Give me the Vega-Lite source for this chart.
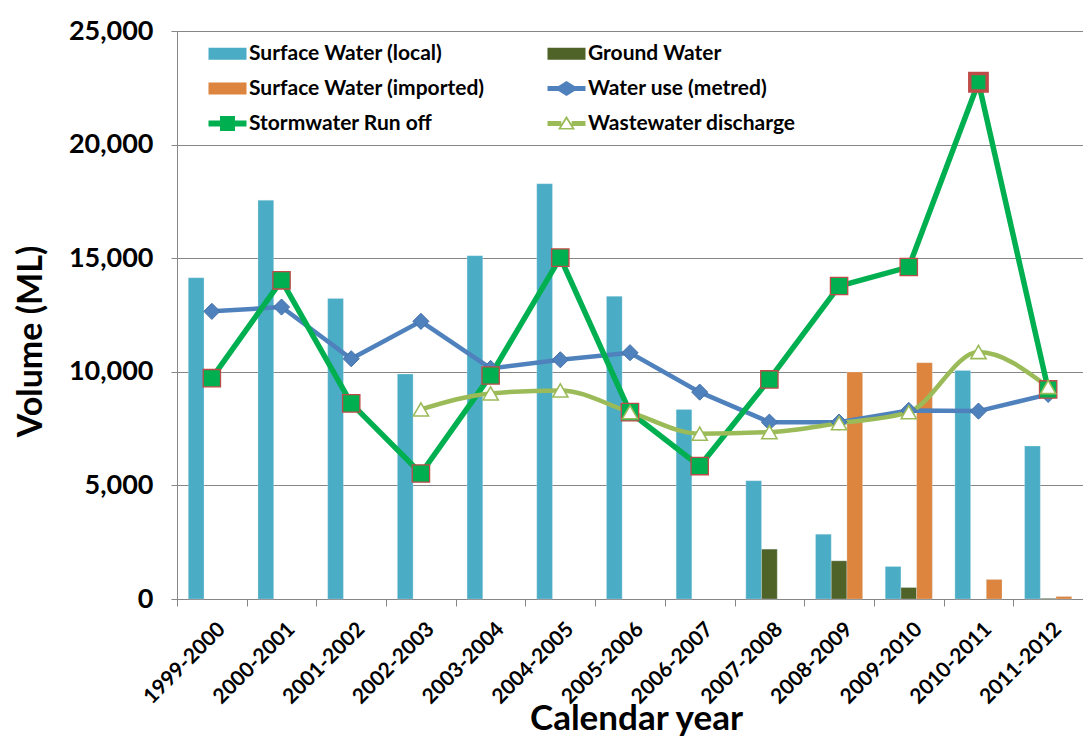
{
  "$schema": "https://vega.github.io/schema/vega-lite/v6.json",
  "width": 906,
  "height": 568,
  "autosize": {"type": "none"},
  "padding": {"left": 177, "top": 31, "right": 0, "bottom": 139},
  "background": "white",
  "config": {
    "view": {"stroke": null},
    "font": "Lato",
    "axis": {"labelFont": "Lato", "titleFont": "Lato", "labelColor": "black", "titleColor": "black", "domainColor": "#868686", "tickColor": "#868686", "gridColor": "#868686", "gridOpacity": 1, "domainWidth": 1, "tickWidth": 1}
  },
  "data": {
    "values": [
      {"year": "1999-2000", "series": "Surface Water (local)", "value": 14140},
      {"year": "2000-2001", "series": "Surface Water (local)", "value": 17550},
      {"year": "2001-2002", "series": "Surface Water (local)", "value": 13230},
      {"year": "2002-2003", "series": "Surface Water (local)", "value": 9900},
      {"year": "2003-2004", "series": "Surface Water (local)", "value": 15110},
      {"year": "2004-2005", "series": "Surface Water (local)", "value": 18280},
      {"year": "2005-2006", "series": "Surface Water (local)", "value": 13320},
      {"year": "2006-2007", "series": "Surface Water (local)", "value": 8340},
      {"year": "2007-2008", "series": "Surface Water (local)", "value": 5205},
      {"year": "2008-2009", "series": "Surface Water (local)", "value": 2855},
      {"year": "2009-2010", "series": "Surface Water (local)", "value": 1430},
      {"year": "2010-2011", "series": "Surface Water (local)", "value": 10060},
      {"year": "2011-2012", "series": "Surface Water (local)", "value": 6730},
      {"year": "2007-2008", "series": "Ground Water", "value": 2195},
      {"year": "2008-2009", "series": "Ground Water", "value": 1680},
      {"year": "2009-2010", "series": "Ground Water", "value": 505},
      {"year": "2011-2012", "series": "Ground Water", "value": 30},
      {"year": "2008-2009", "series": "Surface Water (imported)", "value": 9990},
      {"year": "2009-2010", "series": "Surface Water (imported)", "value": 10400},
      {"year": "2010-2011", "series": "Surface Water (imported)", "value": 860},
      {"year": "2011-2012", "series": "Surface Water (imported)", "value": 110},
      {"year": "1999-2000", "series": "Water use (metred)", "value": 12660},
      {"year": "2000-2001", "series": "Water use (metred)", "value": 12850},
      {"year": "2001-2002", "series": "Water use (metred)", "value": 10575},
      {"year": "2002-2003", "series": "Water use (metred)", "value": 12220},
      {"year": "2003-2004", "series": "Water use (metred)", "value": 10150},
      {"year": "2004-2005", "series": "Water use (metred)", "value": 10530},
      {"year": "2005-2006", "series": "Water use (metred)", "value": 10840},
      {"year": "2006-2007", "series": "Water use (metred)", "value": 9106},
      {"year": "2007-2008", "series": "Water use (metred)", "value": 7785},
      {"year": "2008-2009", "series": "Water use (metred)", "value": 7785},
      {"year": "2009-2010", "series": "Water use (metred)", "value": 8300},
      {"year": "2010-2011", "series": "Water use (metred)", "value": 8270},
      {"year": "2011-2012", "series": "Water use (metred)", "value": 9005},
      {"year": "1999-2000", "series": "Stormwater Run off", "value": 9720},
      {"year": "2000-2001", "series": "Stormwater Run off", "value": 14025},
      {"year": "2001-2002", "series": "Stormwater Run off", "value": 8610},
      {"year": "2002-2003", "series": "Stormwater Run off", "value": 5525},
      {"year": "2003-2004", "series": "Stormwater Run off", "value": 9840},
      {"year": "2004-2005", "series": "Stormwater Run off", "value": 15025},
      {"year": "2005-2006", "series": "Stormwater Run off", "value": 8225},
      {"year": "2006-2007", "series": "Stormwater Run off", "value": 5850},
      {"year": "2007-2008", "series": "Stormwater Run off", "value": 9665},
      {"year": "2008-2009", "series": "Stormwater Run off", "value": 13775},
      {"year": "2009-2010", "series": "Stormwater Run off", "value": 14610},
      {"year": "2010-2011", "series": "Stormwater Run off", "value": 22745},
      {"year": "2011-2012", "series": "Stormwater Run off", "value": 9225},
      {"year": "2002-2003", "series": "Wastewater discharge", "value": 8345},
      {"year": "2003-2004", "series": "Wastewater discharge", "value": 9050},
      {"year": "2004-2005", "series": "Wastewater discharge", "value": 9180},
      {"year": "2005-2006", "series": "Wastewater discharge", "value": 8225},
      {"year": "2006-2007", "series": "Wastewater discharge", "value": 7275},
      {"year": "2007-2008", "series": "Wastewater discharge", "value": 7345},
      {"year": "2008-2009", "series": "Wastewater discharge", "value": 7740},
      {"year": "2009-2010", "series": "Wastewater discharge", "value": 8225},
      {"year": "2010-2011", "series": "Wastewater discharge", "value": 10870},
      {"year": "2011-2012", "series": "Wastewater discharge", "value": 9330}
    ]
  },
  "encoding": {
    "x": {
      "field": "year", "type": "nominal",
      "sort": ["1999-2000","2000-2001","2001-2002","2002-2003","2003-2004","2004-2005","2005-2006","2006-2007","2007-2008","2008-2009","2009-2010","2010-2011","2011-2012"],
      "scale": {"paddingInner": 0, "paddingOuter": 0},
      "axis": {
        "title": "Calendar year", "titleFontSize": 35, "titleFontWeight": "bold",
        "titleX": 459, "titleY": 130, "titleAlign": "center", "titleBaseline": "alphabetic",
        "labelAngle": -45, "labelAlign": "right", "labelBaseline": "top",
        "labelFontSize": 21, "labelFontWeight": "bold", "labelPadding": 12, "labelOffset": 2,
        "tickSize": 7, "tickBand": "extent", "grid": false
      }
    },
    "y": {
      "field": "value", "type": "quantitative",
      "scale": {"domain": [0, 25000], "nice": false},
      "axis": {
        "values": [0, 5000, 10000, 15000, 20000, 25000], "format": ",d",
        "title": "Volume (ML)", "titleFontSize": 34, "titleFontWeight": "bold", "titleY": 310, "titlePadding": 20,
        "labelFontSize": 27, "labelFontWeight": "bold", "labelPadding": 18, "tickSize": 6, "grid": true
      }
    },
    "color": {
      "field": "series", "type": "nominal",
      "scale": {
        "domain": ["Surface Water (local)", "Ground Water", "Surface Water (imported)", "Water use (metred)", "Stormwater Run off", "Wastewater discharge"],
        "range": ["#4BACC6", "#4F6228", "#DD843E", "#4F81BD", "#00B050", "#9BBB59"]
      },
      "legend": null
    }
  },
  "layer": [
    {
      "transform": [{"filter": "false"}],
      "mark": {"type": "point", "filled": true, "opacity": 1},
      "encoding": {
        "color": {
          "field": "series", "type": "nominal",
          "scale": {
            "domain": ["Surface Water (local)", "Ground Water", "Surface Water (imported)", "Water use (metred)", "Stormwater Run off", "Wastewater discharge"],
            "range": ["#4BACC6", "#4F6228", "#DD843E", "#4F81BD", "#00B050", "#9BBB59"]
          },
          "legend": {
            "title": null, "orient": "none", "legendX": 27, "legendY": 12, "columns": 2, "direction": "horizontal",
            "symbolSize": 144, "symbolStrokeWidth": 0, "labelOffset": 24,
            "labelFont": "Lato", "labelFontSize": 21, "labelFontWeight": "bold", "labelColor": "black", "labelLimit": 400,
            "rowPadding": 13, "columnPadding": 58
          }
        },
        "shape": {
          "field": "series", "type": "nominal",
          "scale": {
            "domain": ["Surface Water (local)", "Ground Water", "Surface Water (imported)", "Water use (metred)", "Stormwater Run off", "Wastewater discharge"],
            "range": [
              "M-1,-1H5.333V1H-1Z",
              "M-1,-1H5.333V1H-1Z",
              "M-1,-1H5.333V1H-1Z",
              "M-1,-0.4H0.833L2.167,-1.25L3.5,-0.4H5.333V0.4H3.5L2.167,1.25L0.833,0.4H-1Z",
              "M-1,-0.5H0.917V-1.25H3.417V-0.5H5.333V0.5H3.417V1.25H0.917V0.5H-1Z",
              "M-1,-0.4H1.3V0.4H-1Z M3.03,-0.4H5.333V0.4H3.03Z M2.167,-1.3L3.6,1L0.733,1Z M2.167,-0.7L1.25,0.75L3.08,0.75Z"
            ]
          },
          "legend": {
            "title": null, "orient": "none", "legendX": 27, "legendY": 12, "columns": 2, "direction": "horizontal",
            "symbolSize": 144, "symbolStrokeWidth": 0, "labelOffset": 24,
            "labelFont": "Lato", "labelFontSize": 21, "labelFontWeight": "bold", "labelColor": "black", "labelLimit": 400,
            "rowPadding": 13, "columnPadding": 58
          }
        }
      }
    },
    {
      "transform": [{"filter": "indexof(['Surface Water (local)','Ground Water','Surface Water (imported)'], datum.series) >= 0"}],
      "mark": {"type": "bar", "stroke": "#DCEEF3", "strokeWidth": 0.5, "strokeOpacity": 0.6},
      "encoding": {
        "xOffset": {
          "field": "series", "type": "nominal",
          "scale": {"domain": ["Surface Water (local)", "Ground Water", "Surface Water (imported)"], "paddingInner": 0, "paddingOuter": 0.72}
        }
      }
    },
    {
      "transform": [{"filter": "datum.series === 'Water use (metred)'"}],
      "mark": {"type": "line", "strokeWidth": 4.5}
    },
    {
      "transform": [{"filter": "datum.series === 'Stormwater Run off'"}],
      "mark": {"type": "line", "strokeWidth": 5.5}
    },
    {
      "transform": [{"filter": "datum.series === 'Wastewater discharge'"}],
      "mark": {"type": "line", "strokeWidth": 4.5, "interpolate": "monotone"}
    },
    {
      "transform": [{"filter": "datum.series === 'Water use (metred)'"}],
      "mark": {"type": "point", "shape": "diamond", "filled": true, "size": 260, "opacity": 1, "stroke": "#4470A8", "strokeWidth": 1}
    },
    {
      "transform": [{"filter": "datum.series === 'Stormwater Run off'"}],
      "mark": {"type": "point", "shape": "square", "filled": true, "size": 300, "opacity": 1, "stroke": "#BE4B48"},
      "encoding": {
        "strokeWidth": {"condition": {"test": "datum.year === '2010-2011'", "value": 3.5}, "value": 1.3}
      }
    },
    {
      "transform": [{"filter": "datum.series === 'Wastewater discharge'"}],
      "mark": {"type": "point", "shape": "triangle-up", "filled": false, "fill": "white", "fillOpacity": 1, "size": 230, "opacity": 1, "strokeWidth": 1.6}
    }
  ]
}
